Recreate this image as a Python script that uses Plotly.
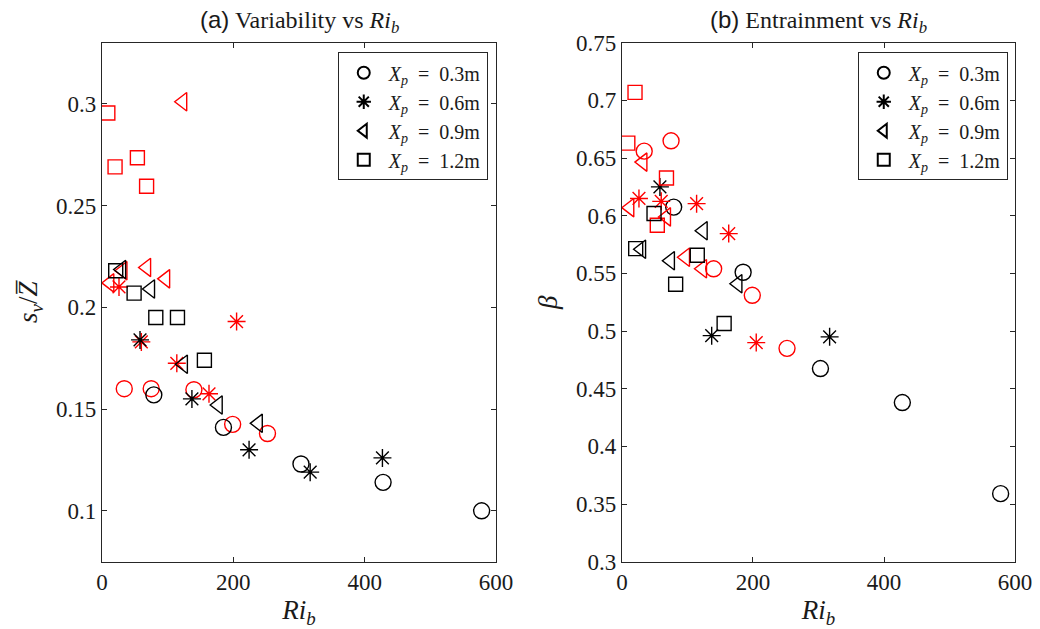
import plotly.graph_objects as go

# ---------------- data ----------------
# Ri_b values, s_nu/Zbar (panel a) and beta (panel b) for each X_p
# black = case 1, red = case 2
ri_03_k = [79, 185, 303, 428, 578]
sv_03_k = [0.157, 0.141, 0.123, 0.114, 0.100]
be_03_k = [0.6075, 0.551, 0.4675, 0.438, 0.359]
ri_03_r = [34, 75, 140, 199, 252]
sv_03_r = [0.160, 0.160, 0.1595, 0.1425, 0.138]
be_03_r = [0.656, 0.665, 0.554, 0.531, 0.485]

ri_06_k = [58, 137, 224, 317, 427]
sv_06_k = [0.184, 0.155, 0.130, 0.119, 0.126]
be_06_k = [0.625, 0.496, None, 0.495, None]
ri_06_r = [26, 60, 114, 163, 205]
sv_06_r = [0.210, 0.183, 0.1725, 0.1575, 0.193]
be_06_r = [0.615, 0.6125, 0.6105, 0.5845, 0.490]

ri_09_k = [30, 74, 124, 177, 238]
sv_09_k = [0.2186, 0.209, 0.172, 0.152, 0.143]
be_09_k = [0.571, 0.561, 0.587, 0.541, None]
ri_09_r = [12, 32, 68, 97, 123]
sv_09_r = [0.212, 0.218, 0.2196, 0.214, 0.301]
be_09_r = [0.607, 0.6465, 0.599, 0.564, 0.554]

ri_12_k = [21, 49, 82, 115, 156]
sv_12_k = [0.218, 0.207, 0.195, 0.195, 0.174]
be_12_k = [0.5715, 0.602, 0.5406, 0.5657, 0.5065]
ri_12_r = [9, 20, 54, 68]
sv_12_r = [0.2955, 0.269, 0.2735, 0.2595]
be_12_r = [0.663, 0.707, 0.5917, 0.6327]

legend_labels = ["0.3m", "0.6m", "0.9m", "1.2m"]
x_ticks = [0, 200, 400, 600]
y_ticks_a = [0.1, 0.15, 0.2, 0.25, 0.3]
y_ticks_b = [0.3, 0.35, 0.4, 0.45, 0.5, 0.55, 0.6, 0.65, 0.7, 0.75]

# ---------------- styling ----------------
RED = "#FF0000"
BLK = "#000000"
AX = "#262626"
TXT = "#1a1a1a"
SERIF = "Liberation Serif, DejaVu Serif, serif"

symbols = ["circle-open", "asterisk-open", "triangle-left-open", "square-open"]
sizes = [16, 15, 16, 14]

groups = [
    (ri_03_k, sv_03_k, be_03_k, ri_03_r, sv_03_r, be_03_r),
    (ri_06_k, sv_06_k, be_06_k, ri_06_r, sv_06_r, be_06_r),
    (ri_09_k, sv_09_k, be_09_k, ri_09_r, sv_09_r, be_09_r),
    (ri_12_k, sv_12_k, be_12_k, ri_12_r, sv_12_r, be_12_r),
]

fig = go.Figure()

for i, (rk, sk, bk, rr, sr, br) in enumerate(groups):
    sym, sz = symbols[i], sizes[i]
    for (xa, ya, vals_k, vals_r) in [("x", "y", sk, sr), ("x2", "y2", bk, br)]:
        for xs, ys, col in [(rr, vals_r, RED), (rk, vals_k, BLK)]:
            fig.add_trace(go.Scatter(
                x=xs, y=ys, mode="markers", xaxis=xa, yaxis=ya,
                marker=dict(symbol=sym, size=sz, color=col,
                            line=dict(color=col, width=1.4)),
                showlegend=False, hoverinfo="x+y"))

# legend-only traces
lab_tpl = "<i>X</i><sub><i>p</i></sub>\u00a0 = \u00a0{}"
for leg, xa, ya in [("legend", "x", "y"), ("legend2", "x2", "y2")]:
    for i, lab in enumerate(legend_labels):
        fig.add_trace(go.Scatter(
            x=[None], y=[None], mode="markers", xaxis=xa, yaxis=ya,
            marker=dict(symbol=symbols[i], size=15, color=BLK,
                        line=dict(color=BLK, width=1.4)),
            name=lab_tpl.format(lab), legend=leg, showlegend=True))

axis_common = dict(
    showline=True, linecolor=AX, linewidth=1, mirror="ticks",
    ticks="inside", ticklen=5, tickcolor=AX, tickwidth=1,
    showgrid=False, zeroline=False, automargin=False,
    tickfont=dict(family=SERIF, size=23, color=TXT),
)

xtitle = dict(text="<i>Ri</i><sub><i>b</i></sub>",
              font=dict(family=SERIF, size=27, color=TXT), standoff=8)

legend_common = dict(
    xanchor="right", yanchor="top", y=0.917,
    bgcolor="white", bordercolor=AX, borderwidth=1,
    font=dict(family=SERIF, size=20, color=TXT),
    itemsizing="constant", tracegroupgap=0, itemwidth=40,
)

fig.update_layout(
    width=1040, height=629,
    margin=dict(l=0, r=0, t=0, b=0),
    paper_bgcolor="white", plot_bgcolor="white",
    xaxis=dict(domain=[0.098, 0.477], range=[0, 600], tickvals=x_ticks,
               title=xtitle, **axis_common),
    yaxis=dict(domain=[0.107, 0.932], range=[0.075, 0.33], tickvals=y_ticks_a,
               ticktext=[f"{v:g}" for v in y_ticks_a],
               title=dict(text="<i>s</i><sub><i>ν</i></sub>/<i>Z\u0305</i>",
                          font=dict(family=SERIF, size=27, color=TXT),
                          standoff=10),
               **axis_common),
    xaxis2=dict(domain=[0.598, 0.976], range=[0, 600], tickvals=x_ticks,
                title=xtitle, anchor="y2", **axis_common),
    yaxis2=dict(domain=[0.107, 0.932], range=[0.3, 0.75], tickvals=y_ticks_b,
                ticktext=[f"{v:g}" for v in y_ticks_b], anchor="x2",
                title=dict(text="<i>β</i>",
                           font=dict(family=SERIF, size=27, color=TXT),
                           standoff=10),
                **axis_common),
    legend=dict(x=0.469, **legend_common),
    legend2=dict(x=0.969, **legend_common),
)

titles = [
    (0.2875, "<span style='font-family:Liberation Sans'>(a)</span> Variability vs <i>Ri</i><sub><i>b</i></sub>"),
    (0.787, "<span style='font-family:Liberation Sans'>(b)</span> Entrainment vs <i>Ri</i><sub><i>b</i></sub>"),
]
for xc, txt in titles:
    fig.add_annotation(x=xc, y=1 - 22 / 629, xref="paper", yref="paper",
                       text=txt, showarrow=False, xanchor="center", yanchor="middle",
                       font=dict(family=SERIF, size=24, color=TXT))

fig.write_html("out.html")
